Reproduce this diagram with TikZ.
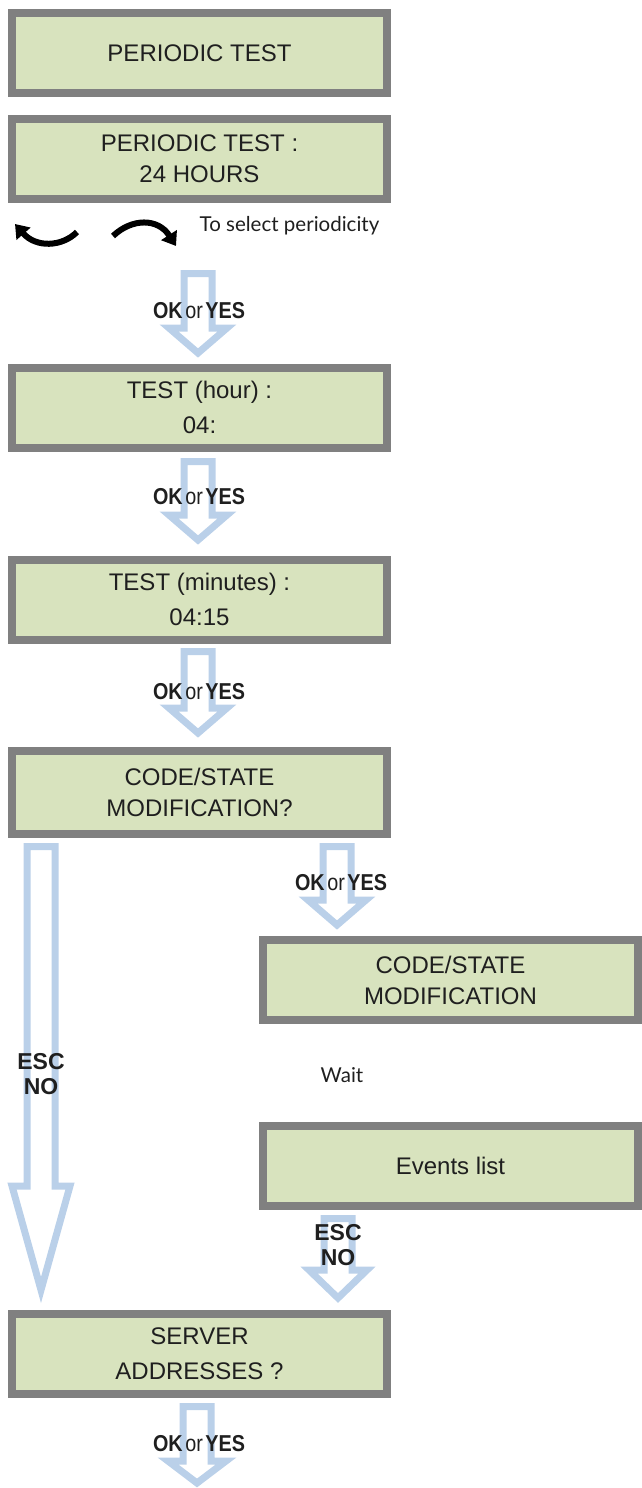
\documentclass[tikz,border=0pt]{standalone}
\usepackage{fontspec}
\usepackage{graphicx}
\setmainfont{Liberation Sans}
\newfontfamily\notefont{Lato}
\usetikzlibrary{calc,arrows.meta}

\definecolor{lcdgreen}{HTML}{D8E3BE}
\definecolor{framegray}{HTML}{808080}
\definecolor{arrowblue}{HTML}{BAD0E9}

% hollow block arrow: start, tip, half shaft, half head, head length
\newcommand{\blockarrow}[5]{%
  \draw[hollow] let \p1=(#1), \p2=(#2) in
    (\x1-#3pt,\y1) -- (\x1+#3pt,\y1) -- (\x1+#3pt,\y2+#5pt)
    -- (\x1+#4pt,\y2+#5pt) -- (\x2,\y2) -- (\x1-#4pt,\y2+#5pt)
    -- (\x1-#3pt,\y2+#5pt) -- cycle;}
\newcommand{\okyes}{\scalebox{0.86}[1]{\textbf{OK}\hspace{3pt}{\mdseries or}\hspace{3pt}\textbf{YES}}}

\begin{document}
\begin{tikzpicture}[
  x=1pt, y=-1pt,
  screen/.style={draw=framegray, line width=8pt, fill=lcdgreen,
                 minimum width=375pt, minimum height=80pt, align=center,
                 text=black!88, font=\fontsize{24}{31}\selectfont},
  wide/.style={font=\fontsize{24}{35}\selectfont},
  hollow/.style={draw=arrowblue, line width=7pt, fill=white},
  keylabel/.style={font=\fontsize{23}{25}\selectfont\bfseries, align=center,
                   text=black!88, inner sep=0pt},
  note/.style={font=\notefont\fontsize{20.5}{24}\selectfont, text=black!88},
  curl/.style={line width=6pt, -{Triangle[length=13pt,width=18pt]}}
]
\useasboundingbox (0,0) rectangle (641,1488);

% screens
\node[screen] (periodic) at (199.5,53) {PERIODIC TEST};
\node[screen] (periodhours) at (199.5,159) {PERIODIC TEST :\\24 HOURS};
\node[screen, wide] (testhour) at (199.5,407.5) {TEST (hour) :\\04:};
\node[screen, wide] (testminutes) at (199.5,599.5) {TEST (minutes) :\\04:15};
\node[screen, minimum height=83pt] (codequery) at (199.5,792.5) {CODE/STATE\\MODIFICATION?};
\node[screen] (codemod) at (450.5,980) {CODE/STATE\\MODIFICATION};
\node[screen] (eventslist) at (450.5,1165.5) {Events list};
\node[screen, wide] (serveraddr) at (199.5,1354) {SERVER\\ADDRESSES ?};

% selection keys
\draw[curl] (77,232) .. controls (62,247) and (36,248) .. (15,224);
\draw[curl] (113,236) .. controls (132,218) and (158,218) .. (176,246);
\node[note] (selecttext) at (289.5,226) {To select periodicity};
\node[note] (waittext) at (342,1075) {Wait};

% arrow ends
\coordinate (hoursout) at (198,273.5);
\coordinate (hourin) at (198,353);
\coordinate (hourout) at (198,461.5);
\coordinate (minutesin) at (198,540);
\coordinate (minutesout) at (198,651.5);
\coordinate (queryin) at (198,733);
\coordinate (escout) at (41,846.5);
\coordinate (escin) at (41,1290);
\coordinate (okout) at (337,846.5);
\coordinate (okin) at (337,925);
\coordinate (listout) at (338,1218.5);
\coordinate (listin) at (338,1298);
\coordinate (serverout) at (197,1406.5);
\coordinate (serverin) at (197,1483);

\blockarrow{hoursout}{hourin}{14}{29}{25}
\blockarrow{hourout}{minutesin}{14}{29}{25}
\blockarrow{minutesout}{queryin}{14}{29}{25}
\blockarrow{escout}{escin}{14}{29}{104}
\blockarrow{okout}{okin}{14}{29}{25}
\blockarrow{listout}{listin}{14}{29}{28}
\blockarrow{serverout}{serverin}{14}{29}{22}

% key labels
\node[keylabel] (okhour) at (199,311) {\okyes};
\node[keylabel] (okminutes) at (199,497) {\okyes};
\node[keylabel] (okquery) at (199,692) {\okyes};
\node[keylabel] (okmod) at (341,883) {\okyes};
\node[keylabel] (okserver) at (199,1444) {\okyes};
\node[keylabel] (escquery) at (41,1074) {ESC\\NO};
\node[keylabel] (esclist) at (338,1245) {ESC\\NO};
\end{tikzpicture}
\end{document}
